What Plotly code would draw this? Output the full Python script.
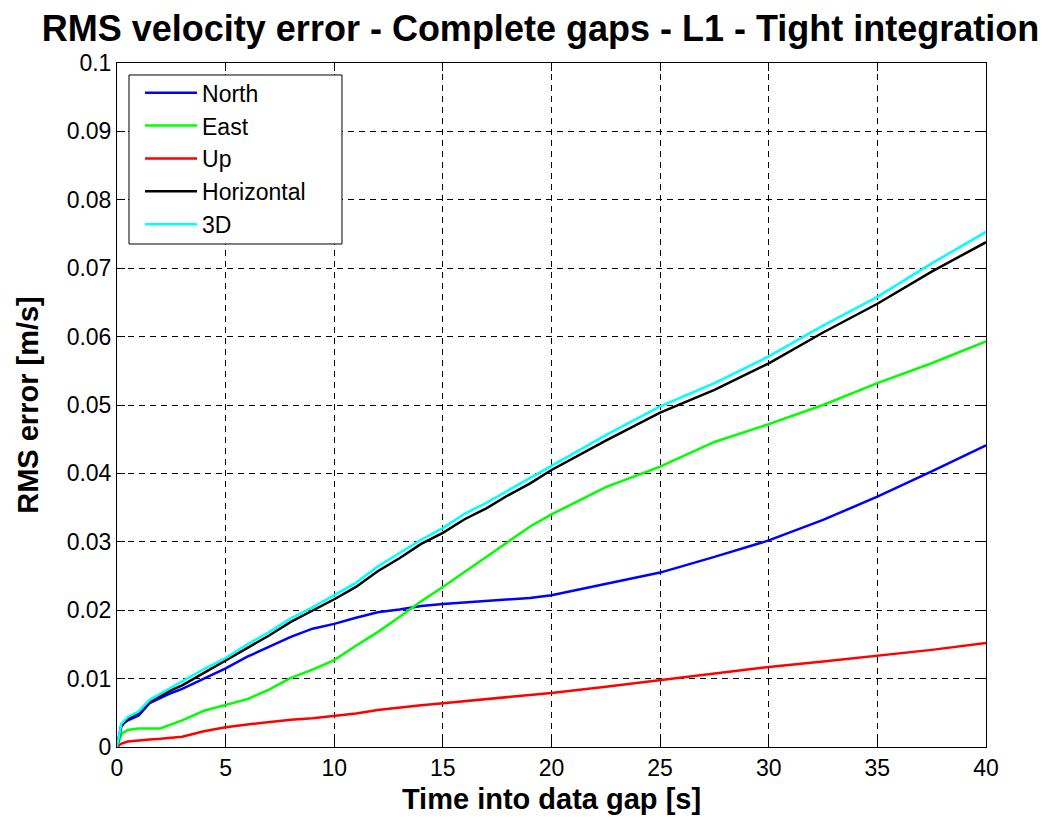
import plotly.graph_objects as go

# Time into data gap [s]
t = [0, 0.2, 0.5, 1, 1.5, 2, 2.5, 3, 4, 5, 6, 7, 8, 9, 10, 11, 12, 13, 14, 15,
     16, 17, 18, 19, 20, 22.5, 25, 27.5, 30, 32.5, 35, 37.5, 40]

north = [0, 0.0033, 0.0039, 0.0046, 0.0064, 0.0072, 0.0079, 0.0085, 0.0100, 0.0115,
         0.0132, 0.0147, 0.0161, 0.0173, 0.0180, 0.0189, 0.0197, 0.0201, 0.0206, 0.0209,
         0.0211, 0.0213, 0.0216, 0.0218, 0.0222, 0.0238, 0.0255, 0.0278, 0.0302, 0.0332,
         0.0366, 0.0403, 0.0441]

east = [0, 0.0019, 0.0025, 0.0027, 0.0027, 0.0027, 0.0033, 0.0039, 0.0053, 0.0061,
        0.0070, 0.0084, 0.0101, 0.0113, 0.0127, 0.0148, 0.0168, 0.0190, 0.0213, 0.0234,
        0.0256, 0.0278, 0.0301, 0.0322, 0.0340, 0.0380, 0.0410, 0.0446, 0.0472, 0.0500,
        0.0532, 0.0561, 0.0593]

up = [0, 0.0005, 0.0008, 0.0010, 0.0011, 0.0012, 0.0013, 0.0015, 0.0023, 0.0029,
      0.0033, 0.0037, 0.0040, 0.0042, 0.0045, 0.0049, 0.0054, 0.0058, 0.0061, 0.0064,
      0.0067, 0.0070, 0.0073, 0.0076, 0.0079, 0.0088, 0.0098, 0.0107, 0.0117, 0.0125,
      0.0133, 0.0142, 0.0152]

horizontal = [0, 0.0030, 0.0042, 0.0050, 0.0066, 0.0075, 0.0083, 0.0090, 0.0108, 0.0126,
              0.0145, 0.0163, 0.0183, 0.0199, 0.0216, 0.0234, 0.0257, 0.0276, 0.0297, 0.0313,
              0.0333, 0.0349, 0.0368, 0.0385, 0.0405, 0.0448, 0.0489, 0.0522, 0.0561, 0.0606,
              0.0648, 0.0695, 0.0738]

three_d = [0, 0.0034, 0.0044, 0.0052, 0.0069, 0.0078, 0.0087, 0.0095, 0.0114, 0.0130,
           0.0150, 0.0168, 0.0188, 0.0204, 0.0222, 0.0240, 0.0264, 0.0283, 0.0303, 0.0320,
           0.0341, 0.0357, 0.0375, 0.0393, 0.0412, 0.0456, 0.0498, 0.0532, 0.0571, 0.0616,
           0.0658, 0.0707, 0.0753]

x_ticks = [0, 5, 10, 15, 20, 25, 30, 35, 40]
y_ticks = [0, 0.01, 0.02, 0.03, 0.04, 0.05, 0.06, 0.07, 0.08, 0.09, 0.1]
y_tick_labels = ["0", "0.01", "0.02", "0.03", "0.04", "0.05", "0.06", "0.07", "0.08", "0.09", "0.1"]

series = [
    ("North", north, "#0000FF"),
    ("East", east, "#00FF00"),
    ("Up", up, "#FF0000"),
    ("Horizontal", horizontal, "#000000"),
    ("3D", three_d, "#00FFFF"),
]

FONT = "Arial, Liberation Sans, sans-serif"

fig = go.Figure()
for name, vals, color in series:
    fig.add_trace(go.Scatter(x=t, y=vals, mode="lines", name=name,
                             line=dict(color=color, width=2.5)))

axis_common = dict(
    showline=True, linecolor="black", linewidth=1, mirror="ticks",
    ticks="inside", ticklen=8, tickcolor="black", tickwidth=1,
    showgrid=True, gridcolor="black", gridwidth=1, griddash="6px,5px",
    zeroline=False,
    tickfont=dict(family=FONT, size=23, color="black"),
)

fig.update_xaxes(range=[0, 40], tickvals=x_ticks,
                 title=dict(text="<b>Time into data gap [s]</b>",
                            font=dict(family=FONT, size=29, color="black"), standoff=9),
                 **axis_common)
fig.update_yaxes(range=[0, 0.1], tickvals=y_ticks, ticktext=y_tick_labels,
                 title=dict(text="<b>RMS error [m/s]</b>",
                            font=dict(family=FONT, size=29, color="black"), standoff=19),
                 **axis_common)

# legend frame (white box with black border, like the original)
fig.add_shape(type="rect", xref="paper", yref="paper",
              x0=0.0138, x1=0.2589, y0=0.7354, y1=0.9825,
              fillcolor="white", line=dict(color="black", width=1), layer="above")

fig.update_layout(
    width=1064, height=823,
    margin=dict(l=117, r=78, t=63, b=76),
    paper_bgcolor="white", plot_bgcolor="white",
    title=dict(text="<b>RMS velocity error - Complete gaps - L1 - Tight integration</b>",
               font=dict(family=FONT, size=36, color="black"),
               x=0.508, xref="container", xanchor="center",
               y=1 - 28 / 823, yref="container", yanchor="middle"),
    legend=dict(x=0.0265, y=0.988, xanchor="left", yanchor="top",
                bgcolor="rgba(0,0,0,0)", borderwidth=0,
                font=dict(family=FONT, size=23, color="black"),
                tracegroupgap=0, itemwidth=52),
    showlegend=True,
)

fig.write_html("out.html")
